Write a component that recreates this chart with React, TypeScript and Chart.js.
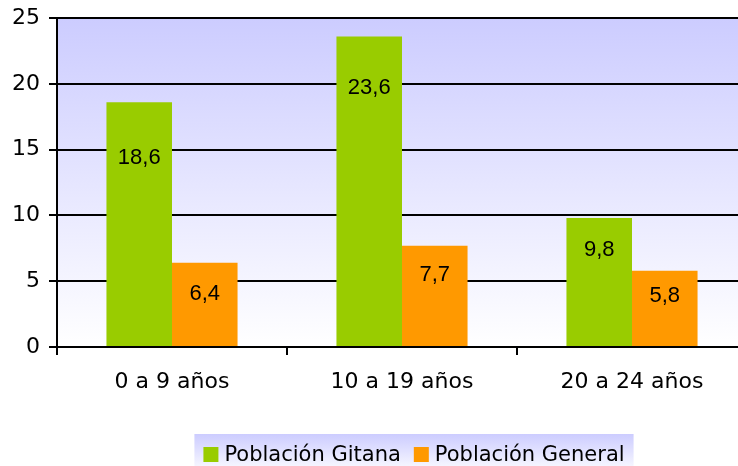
import React, { useEffect, useRef } from "react";
import { Chart, registerables } from "chart.js";
Chart.register(...registerables);

const categories = ["0 a 9 años", "10 a 19 años", "20 a 24 años"];
const seriesNames = ["Población Gitana", "Población General"];
const gitana = [18.6, 23.6, 9.8];
const general = [6.4, 7.7, 5.8];
const yMin = 0;
const yMax = 25;
const yStep = 5;

const seriesColors = ["#99CC00", "#FF9900"];

const W = 760;
const H = 466;

const fmt = (v: number) => String(v).replace(".", ",");

export default function App() {
  const ref = useRef<HTMLCanvasElement>(null);
  useEffect(() => {
    if (!ref.current) return;
    const bgPlugin = {
      id: "bgGrad",
      beforeDraw(chart: any) {
        const { ctx, chartArea: a } = chart;
        const g = ctx.createLinearGradient(0, a.top, 0, a.bottom);
        g.addColorStop(0, "#CCCCFF");
        g.addColorStop(1, "#FFFFFF");
        ctx.save();
        ctx.fillStyle = g;
        ctx.fillRect(a.left, a.top, a.right - a.left, a.bottom - a.top);
        ctx.restore();
      },
    };
    const offsets = [
      [56, 52, 32],
      [31, 29, 25],
    ];
    const valuePlugin = {
      id: "valueLabels",
      afterDatasetsDraw(chart: any) {
        const ctx = chart.ctx;
        ctx.save();
        ctx.font = "22px 'Liberation Sans', Arial, sans-serif";
        ctx.fillStyle = "#000";
        ctx.textAlign = "center";
        ctx.textBaseline = "middle";
        chart.data.datasets.forEach((ds: any, di: number) => {
          const meta = chart.getDatasetMeta(di);
          meta.data.forEach((el: any, i: number) => {
            ctx.fillText(fmt(ds.data[i]), el.x, el.y + offsets[di][i]);
          });
        });
        ctx.restore();
      },
    };
    const legendPlugin = {
      id: "customLegend",
      afterDraw(chart: any) {
        const ctx = chart.ctx;
        ctx.save();
        ctx.font = "21px 'DejaVu Sans', Verdana, sans-serif";
        const box = 15;
        const gapBoxText = 6;
        const gapItems = 13;
        const pad = 9;
        const names = chart.data.datasets.map((d: any) => d.label);
        const widths = names.map((n: string) => ctx.measureText(n).width);
        let total = 0;
        widths.forEach((w: number, i: number) => {
          total += box + gapBoxText + w + (i < widths.length - 1 ? gapItems : 0);
        });
        const cx = 414;
        const bx = cx - total / 2 - pad;
        const by = 434;
        const g = ctx.createLinearGradient(0, by, 0, by + 40);
        g.addColorStop(0, "#CCCCFF");
        g.addColorStop(1, "#FFFFFF");
        ctx.fillStyle = g;
        ctx.fillRect(bx, by, total + pad * 2, H - by);
        let x = cx - total / 2;
        ctx.textBaseline = "alphabetic";
        ctx.textAlign = "left";
        names.forEach((n: string, i: number) => {
          ctx.fillStyle = chart.data.datasets[i].backgroundColor;
          ctx.fillRect(x, 447, box, box);
          ctx.fillStyle = "#000";
          ctx.fillText(n, x + box + gapBoxText, 461);
          x += box + gapBoxText + widths[i] + gapItems;
        });
        ctx.restore();
      },
    };
    const chart = new Chart(ref.current, {
      type: "bar",
      data: {
        labels: categories,
        datasets: [
          { label: seriesNames[0], data: gitana, backgroundColor: seriesColors[0], borderWidth: 0 },
          { label: seriesNames[1], data: general, backgroundColor: seriesColors[1], borderWidth: 0 },
        ],
      },
      options: {
        responsive: false,
        animation: false,
        devicePixelRatio: 1,
        layout: { padding: { top: 18, right: W - 747, bottom: H - 347 - 60, left: 0 } },
        plugins: { legend: { display: false }, tooltip: { enabled: false } },
        datasets: { bar: { categoryPercentage: 0.57, barPercentage: 1.0 } },
        scales: {
          x: {
            afterFit(scale: any) {
              scale.height = 60;
              scale.paddingLeft = 0;
              scale.paddingRight = 0;
            },
            grid: {
              offset: true,
              drawOnChartArea: false,
              drawTicks: true,
              tickLength: 8,
              color: "#000",
              lineWidth: 2,
            },
            border: { display: true, color: "#000", width: 2 },
            ticks: {
              color: "#000",
              padding: 14,
              font: { family: "'DejaVu Sans', Verdana, sans-serif", size: 22 },
            },
          },
          y: {
            min: yMin,
            max: yMax,
            afterFit(scale: any) {
              scale.width = 57;
              scale.paddingTop = 0;
              scale.paddingBottom = 0;
            },
            grid: { color: "#000", lineWidth: 2, drawTicks: true, tickLength: 8 },
            border: { display: true, color: "#000", width: 2 },
            ticks: {
              stepSize: yStep,
              color: "#000",
              padding: 9,
              font: { family: "'DejaVu Sans', Verdana, sans-serif", size: 22 },
            },
          },
        },
      },
      plugins: [bgPlugin, valuePlugin, legendPlugin],
    } as any);
    return () => chart.destroy();
  }, []);
  return (
    <div style={{ position: "absolute", left: 0, top: 0, width: 738, height: 466, overflow: "hidden", background: "#fff" }}>
      <canvas ref={ref} width={W} height={H} style={{ display: "block", width: W, height: H }} />
    </div>
  );
}
